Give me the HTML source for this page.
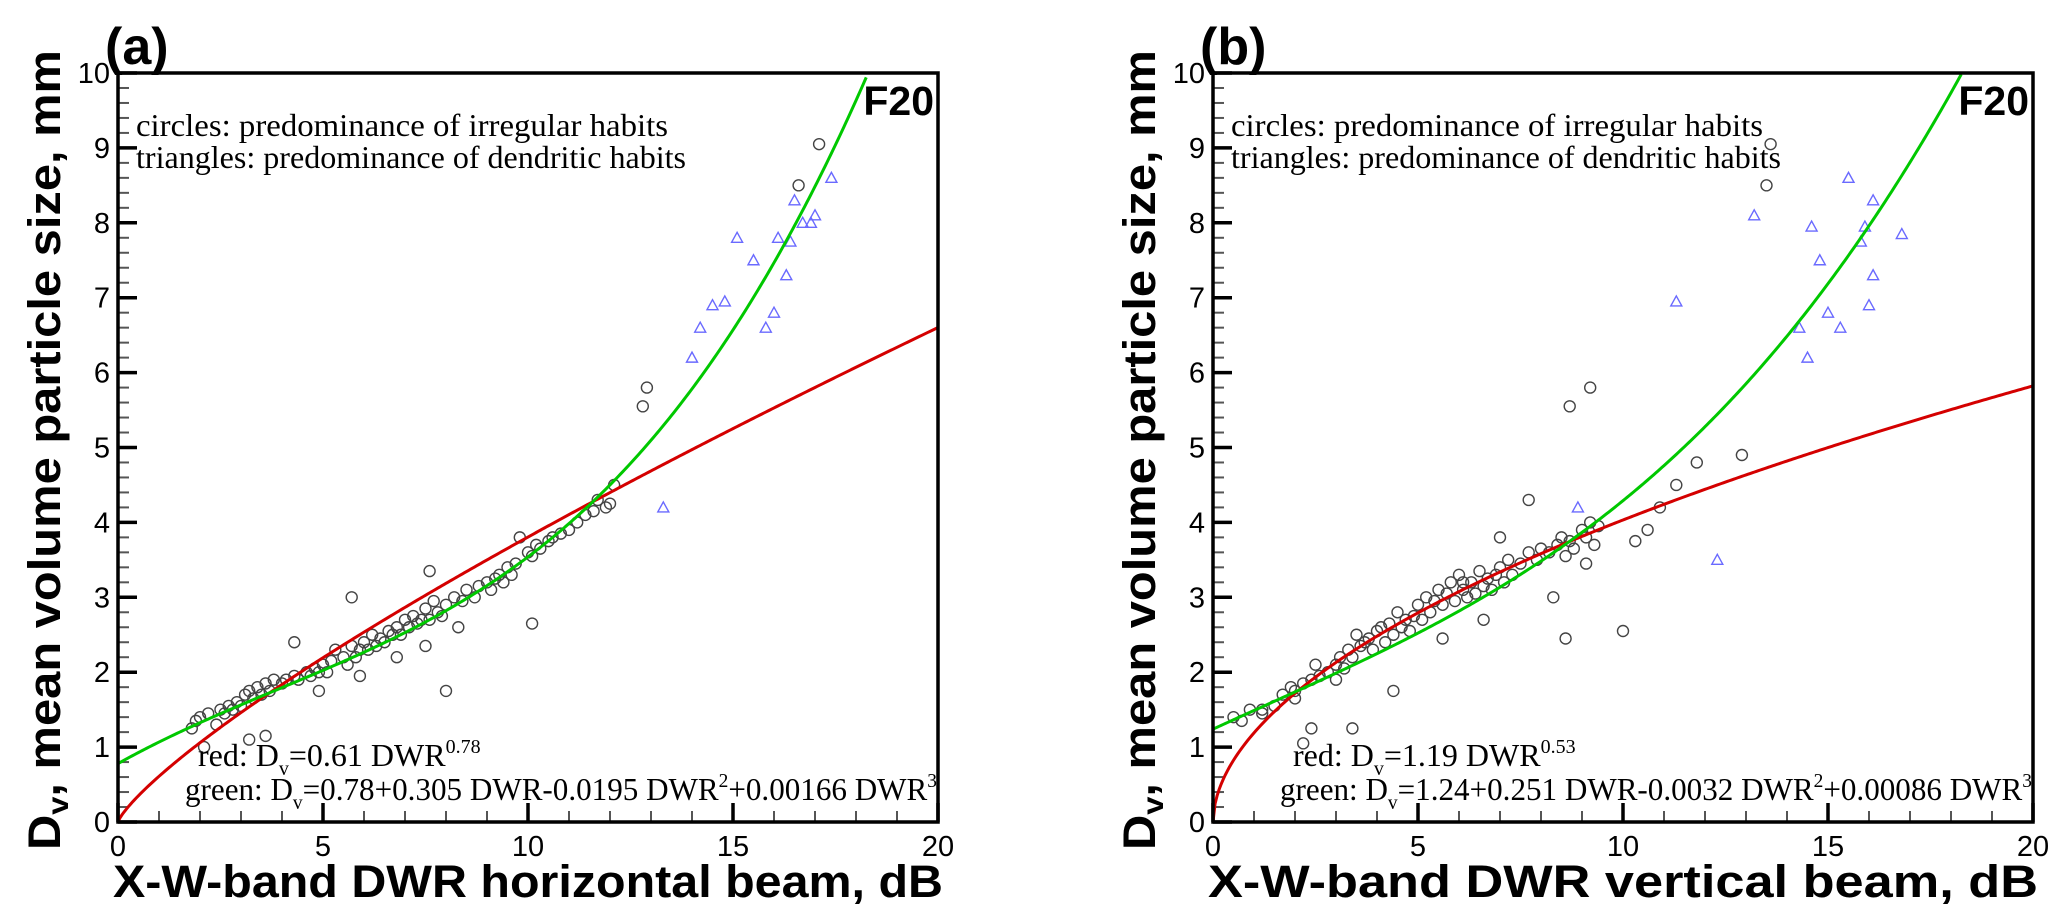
<!DOCTYPE html>
<html><head><meta charset="utf-8"><style>
html,body{margin:0;padding:0;background:#fff;width:2067px;height:921px;overflow:hidden}
svg{display:block}
.tk{font-family:"Liberation Sans",sans-serif;font-size:29px;fill:#000}
.ti{font-family:"Liberation Sans",sans-serif;font-weight:bold;fill:#000}
.sr{font-family:"Liberation Serif",serif;font-size:32px;fill:#000}
</style></head><body>
<svg id="fig" width="2067" height="921" viewBox="0 0 2067 921" xmlns="http://www.w3.org/2000/svg"></svg>
<script>
// ---- data ----
const xTicks=[0,5,10,15,20];
const yTicks=[0,1,2,3,4,5,6,7,8,9,10];
// panel a
const aCircX=[1.8,1.9,2.0,2.2,2.4,2.5,2.6,2.7,2.8,2.9,3.0,3.1,3.2,3.3,3.4,3.5,3.6,3.7,3.8,4.0,4.1,4.3,4.4,4.6,4.7,4.8,4.9,5.0,5.1,5.2,5.3,5.5,5.6,5.7,5.8,5.9,6.0,6.1,6.2,6.3,6.4,6.5,6.6,6.7,6.8,6.9,7.0,7.1,7.2,7.3,7.4,7.5,7.6,7.7,7.8,7.9,8.0,8.2,8.4,8.5,8.7,8.8,9.0,9.1,9.2,9.3,9.4,9.5,9.6,9.7,9.8,10.0,10.1,10.2,10.3,10.5,10.6,10.8,11.0,11.2,11.4,11.6,11.7,11.9,12.0,12.1,12.8,12.9,17.1,16.6,8.0,10.1,5.7,7.6,4.3,3.2,3.6,2.1,4.9,5.9,6.8,7.5,8.3];
const aCircY=[1.25,1.35,1.4,1.45,1.3,1.5,1.45,1.55,1.5,1.6,1.55,1.7,1.75,1.65,1.8,1.7,1.85,1.75,1.9,1.85,1.9,1.95,1.9,2.0,1.95,2.05,2.0,2.1,2.0,2.15,2.3,2.2,2.1,2.35,2.2,2.3,2.4,2.3,2.5,2.35,2.45,2.4,2.55,2.5,2.6,2.5,2.7,2.6,2.75,2.65,2.7,2.85,2.7,2.95,2.8,2.75,2.9,3.0,2.95,3.1,3.0,3.15,3.2,3.1,3.25,3.3,3.2,3.4,3.3,3.45,3.8,3.6,3.55,3.7,3.65,3.75,3.8,3.85,3.9,4.0,4.1,4.15,4.3,4.2,4.25,4.5,5.55,5.8,9.05,8.5,1.75,2.65,3.0,3.35,2.4,1.1,1.15,1.0,1.75,1.95,2.2,2.35,2.6];
const aTriX=[13.3,14.0,14.2,14.5,14.8,15.1,15.5,15.8,16.0,16.1,16.3,16.4,16.5,16.7,16.9,17.0,17.4];
const aTriY=[4.2,6.2,6.6,6.9,6.95,7.8,7.5,6.6,6.8,7.8,7.3,7.75,8.3,8.0,8.0,8.1,8.6];
// panel b
const bCircX=[0.5,0.7,0.9,1.2,1.5,1.7,1.9,2.0,2.2,2.4,2.5,2.6,2.8,3.0,3.1,3.2,3.3,3.4,3.5,3.6,3.7,3.8,3.9,4.0,4.1,4.2,4.3,4.4,4.5,4.6,4.7,4.8,4.9,5.0,5.1,5.2,5.3,5.4,5.5,5.6,5.7,5.8,5.9,6.0,6.1,6.2,6.3,6.4,6.5,6.6,6.7,6.8,6.9,7.0,7.1,7.2,7.3,7.5,7.7,7.9,8.0,8.2,8.4,8.5,8.6,8.7,8.8,9.0,9.1,9.2,9.3,9.4,10.3,10.6,10.9,11.3,11.8,12.9,13.5,13.6,9.2,8.7,10.0,8.6,7.7,1.2,2.2,2.4,3.4,6.1,7.0,4.4,5.6,6.6,3.0,2.0,8.3,9.1];
const bCircY=[1.4,1.35,1.5,1.45,1.55,1.7,1.8,1.65,1.85,1.9,2.1,1.95,2.0,2.1,2.2,2.05,2.3,2.2,2.5,2.35,2.4,2.45,2.3,2.55,2.6,2.4,2.65,2.5,2.8,2.6,2.7,2.55,2.75,2.9,2.7,3.0,2.8,2.95,3.1,2.9,3.05,3.2,2.95,3.3,3.1,3.0,3.2,3.05,3.35,3.15,3.25,3.1,3.3,3.4,3.2,3.5,3.3,3.45,3.6,3.5,3.65,3.6,3.7,3.8,3.55,3.75,3.65,3.9,3.8,4.0,3.7,3.95,3.75,3.9,4.2,4.5,4.8,4.9,8.5,9.05,5.8,5.55,2.55,2.45,4.3,1.5,1.05,1.25,1.25,3.2,3.8,1.75,2.45,2.7,1.9,1.75,3.0,3.45];
const bTriX=[8.9,11.3,12.3,13.2,14.3,14.5,14.6,14.8,15.0,15.3,15.5,15.8,15.9,16.0,16.1,16.1,16.8];
const bTriY=[4.2,6.95,3.5,8.1,6.6,6.2,7.95,7.5,6.8,6.6,8.6,7.75,7.95,6.9,8.3,7.3,7.85];
// fit coefficients (as drawn)
const aRed=[0.61,0.795];
const aGreen=[0.78,0.305,-0.0195,0.00166];
const bRed=[1.19,0.53];
const bGreen=[1.24,0.251,-0.0032,0.00086];

const NS='http://www.w3.org/2000/svg';
const svg=document.getElementById('fig');
function mk(tag,attrs,parent){const e=document.createElementNS(NS,tag);for(const k in attrs)e.setAttribute(k,attrs[k]);(parent||svg).appendChild(e);return e;}

const Y0=822,Y10=73;
function panel(id,left,right,cx,cy,tx,ty,red,green,label,xtitle,redTxt,greenTxt){
  const g=mk('g',{});
  
  
  const sx=v=>left+(right-left)*v/20;
  const sy=v=>Y0+(Y10-Y0)*v/10;
  for(let i=0;i<=50;i++){const v=i*0.2;if(i%5===0)continue;
    const t=mk('line',{x1:left,x2:left+11,y1:sy(v),y2:sy(v),stroke:'#555','stroke-width':2},g);
    
    }
  for(let i=1;i<20;i++){if(i%5===0)continue;
    const t=mk('line',{x1:sx(i),x2:sx(i),y1:Y0,y2:Y0-11,stroke:'#555','stroke-width':2},g);
    
    }
  yTicks.forEach(v=>{
    const t=mk('line',{x1:left,x2:left+19,y1:sy(v),y2:sy(v),stroke:'#000','stroke-width':3.5},g);
    
    
    const l=mk('text',{x:left-8,y:sy(v)+10,'text-anchor':'end',class:'tk'},g);l.textContent=v;
    
    
  });
  xTicks.forEach(v=>{
    const t=mk('line',{x1:sx(v),x2:sx(v),y1:Y0,y2:Y0-19,stroke:'#000','stroke-width':3.5},g);
    
    
    const l=mk('text',{x:sx(v),y:Y0+34,'text-anchor':'middle',class:'tk'},g);l.textContent=v;
    
    
  });
  cx.forEach((x,i)=>{const c=mk('circle',{cx:sx(x),cy:sy(cy[i]),r:5.5,fill:'none',stroke:'#444','stroke-width':1.4},g);
    
    });
  tx.forEach((x,i)=>{const X=sx(x),Y=sy(ty[i]);
    const p=mk('polygon',{points:`${X},${Y-5.5} ${X-5.5},${Y+4.5} ${X+5.5},${Y+4.5}`,fill:'none',stroke:'#6a6aff','stroke-width':1.4},g);
    
    });
  let dr='',dg='';
  for(let i=0;i<=400;i++){const x=20*i/400;
    const yr=red[0]*Math.pow(x,red[1]);
    dr+=(i?'L':'M')+sx(x).toFixed(2)+','+sy(yr).toFixed(2);
    const yg=green[0]+green[1]*x+green[2]*x*x+green[3]*x*x*x;
    if(yg<=10){dg+=(dg?'L':'M')+sx(x).toFixed(2)+','+sy(yg).toFixed(2);}
  }
  const cr=mk('path',{d:dr,fill:'none',stroke:'#d40000','stroke-width':3},g);
  
  
  const cg=mk('path',{d:dg,fill:'none',stroke:'#00c800','stroke-width':3},g);
  
  
  const f=mk('rect',{x:left,y:Y10,width:right-left,height:Y0-Y10,fill:'none',stroke:'#000','stroke-width':3.5},g);
  
  
  const t1=mk('text',{x:left+18,y:136,class:'sr',textLength:532,lengthAdjust:'spacingAndGlyphs'},g);t1.textContent='circles: predominance of irregular habits';
  
  
  const t2=mk('text',{x:left+18,y:168,class:'sr',textLength:550,lengthAdjust:'spacingAndGlyphs'},g);t2.textContent='triangles: predominance of dendritic habits';
  
  
  const f20=mk('text',{x:right-4,y:115,'text-anchor':'end',class:'ti','font-size':41},g);f20.textContent='F20';
  
  
  const pl=mk('text',{x:left-13,y:64,class:'ti','font-size':52},g);pl.textContent=label;
  
  
  const xt=mk('text',{x:(left+right)/2,y:897,'text-anchor':'middle',class:'ti','font-size':45,textLength:830,lengthAdjust:'spacingAndGlyphs'},g);xt.textContent=xtitle;
  
  
  const yt=mk('text',{x:0,y:0,'text-anchor':'middle',class:'ti','font-size':45,transform:`translate(${left-58},450) rotate(-90)`,textLength:800,lengthAdjust:'spacingAndGlyphs'},g);
  yt.innerHTML='D<tspan font-size="30" dy="8">v</tspan><tspan dy="-8">, mean volume particle size, mm</tspan>';
  
  
  const e1=mk('text',{x:left+80,y:766,class:'sr'},g);
  e1.innerHTML=redTxt;
  
  
  const e2=mk('text',{x:left+67,y:800,class:'sr',textLength:752,lengthAdjust:'spacingAndGlyphs'},g);
  e2.innerHTML=greenTxt;
  
  
}
panel('a',118,938,aCircX,aCircY,aTriX,aTriY,aRed,aGreen,'(a)','X-W-band DWR horizontal beam, dB',
 'red: D<tspan font-size="20" dy="9">v</tspan><tspan dy="-9">=0.61 DWR</tspan><tspan font-size="20" dy="-13">0.78</tspan>',
 'green:  D<tspan font-size="20" dy="9">v</tspan><tspan dy="-9">=0.78+0.305 DWR-0.0195 DWR</tspan><tspan font-size="20" dy="-13">2</tspan><tspan dy="13">+0.00166 DWR</tspan><tspan font-size="20" dy="-13">3</tspan>');
panel('b',1213,2033,bCircX,bCircY,bTriX,bTriY,bRed,bGreen,'(b)','X-W-band DWR vertical beam, dB',
 'red: D<tspan font-size="20" dy="9">v</tspan><tspan dy="-9">=1.19 DWR</tspan><tspan font-size="20" dy="-13">0.53</tspan>',
 'green:  D<tspan font-size="20" dy="9">v</tspan><tspan dy="-9">=1.24+0.251 DWR-0.0032 DWR</tspan><tspan font-size="20" dy="-13">2</tspan><tspan dy="13">+0.00086 DWR</tspan><tspan font-size="20" dy="-13">3</tspan>');
</script>
</body></html>
